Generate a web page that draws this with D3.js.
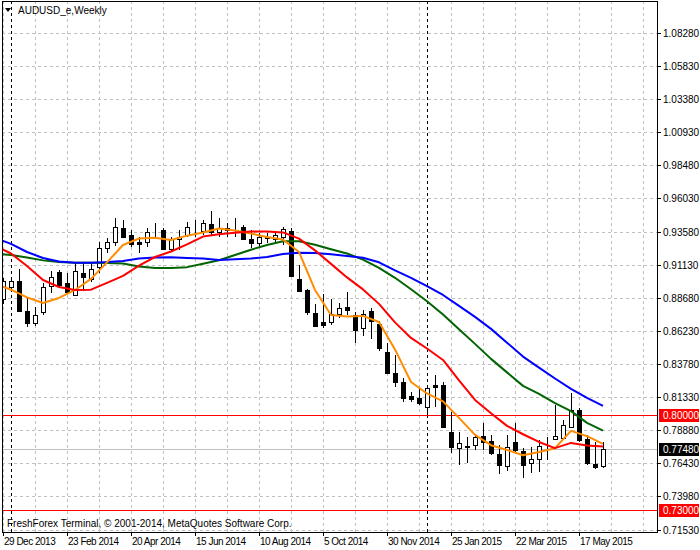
<!DOCTYPE html>
<html>
<head>
<meta charset="utf-8">
<title>AUDUSD_e,Weekly</title>
<style>
  body { margin: 0; background: #fff; }
  svg text { font-family: "Liberation Sans", Arial, sans-serif; font-size: 10px; fill: #000; }
  svg text.date { letter-spacing: -0.5px; }
</style>
</head>
<body>
<script src="https://d3js.org/d3.v7.min.js"></script>
<script>

// weekly candles, first bar = week of 29 Dec 2013
var opens = [0.8857, 0.8950, 0.8993, 0.8770, 0.8681, 0.8761, 0.8953, 0.9059, 0.8976, 0.8887,
    0.9052, 0.9007, 0.9094, 0.9235, 0.9279, 0.9383, 0.9333, 0.9278, 0.9279, 0.9361,
    0.9370, 0.9230, 0.9301, 0.9333, 0.9381, 0.9365, 0.9412, 0.9353, 0.9368, 0.9374,
    0.9389, 0.9304, 0.9272, 0.9313, 0.9301, 0.9316, 0.9363, 0.9007, 0.8926, 0.8754,
    0.8687, 0.8687, 0.8751, 0.8797, 0.8741, 0.8643, 0.8770, 0.8674, 0.8465, 0.8310,
    0.8243, 0.8142, 0.8127, 0.8062, 0.8221, 0.8221, 0.7873, 0.7755, 0.7770, 0.7779,
    0.7846, 0.7809, 0.7712, 0.7626, 0.7801, 0.7735, 0.7644, 0.7673, 0.7820, 0.7821,
    0.7829, 0.7915, 0.8038, 0.7824, 0.7636, 0.7623];
var highs = [0.9015, 0.9015, 0.9079, 0.8867, 0.8797, 0.8980, 0.9067, 0.9074, 0.9050, 0.9131,
    0.9128, 0.9126, 0.9284, 0.9309, 0.9457, 0.9444, 0.9370, 0.9321, 0.9383, 0.9420,
    0.9385, 0.9321, 0.9370, 0.9432, 0.9444, 0.9444, 0.9511, 0.9457, 0.9420, 0.9461,
    0.9407, 0.9370, 0.9346, 0.9346, 0.9348, 0.9395, 0.9383, 0.9111, 0.8934, 0.8820,
    0.8894, 0.8859, 0.8828, 0.8909, 0.8763, 0.8778, 0.8791, 0.8699, 0.8536, 0.8445,
    0.8273, 0.8169, 0.8206, 0.8216, 0.8295, 0.8245, 0.8026, 0.7878, 0.7840, 0.7860,
    0.7940, 0.7853, 0.7779, 0.7853, 0.7940, 0.7755, 0.7767, 0.7816, 0.7840, 0.8075,
    0.7964, 0.8166, 0.8051, 0.7853, 0.7804, 0.7804];
var lows = [0.8822, 0.8911, 0.8770, 0.8654, 0.8661, 0.8741, 0.8901, 0.8948, 0.8901, 0.8882,
    0.8921, 0.8985, 0.9050, 0.9198, 0.9252, 0.9309, 0.9247, 0.9198, 0.9247, 0.9321,
    0.9222, 0.9210, 0.9222, 0.9321, 0.9321, 0.9333, 0.9333, 0.9321, 0.9321, 0.9321,
    0.9296, 0.9235, 0.9247, 0.9274, 0.9281, 0.9259, 0.9024, 0.8913, 0.8741, 0.8654,
    0.8642, 0.8667, 0.8717, 0.8741, 0.8536, 0.8586, 0.8561, 0.8477, 0.8305, 0.8211,
    0.8100, 0.8100, 0.8075, 0.8001, 0.8062, 0.7903, 0.7718, 0.7631, 0.7644, 0.7742,
    0.7742, 0.7705, 0.7562, 0.7589, 0.7730, 0.7533, 0.7570, 0.7582, 0.7668, 0.7816,
    0.7816, 0.7909, 0.7804, 0.7631, 0.7599, 0.7606];
var closes = [0.8995, 0.8990, 0.8773, 0.8679, 0.8740, 0.8950, 0.9024, 0.8965, 0.8913, 0.9064,
    0.9024, 0.9079, 0.9239, 0.9279, 0.9390, 0.9321, 0.9264, 0.9267, 0.9353, 0.9366,
    0.9227, 0.9304, 0.9321, 0.9395, 0.9385, 0.9420, 0.9358, 0.9383, 0.9383, 0.9377,
    0.9302, 0.9272, 0.9316, 0.9318, 0.9333, 0.9375, 0.9032, 0.8921, 0.8761, 0.8662,
    0.8667, 0.8748, 0.8791, 0.8780, 0.8630, 0.8748, 0.8699, 0.8495, 0.8310, 0.8243,
    0.8129, 0.8117, 0.8088, 0.8199, 0.8211, 0.7910, 0.7762, 0.7792, 0.7765, 0.7838,
    0.7801, 0.7718, 0.7631, 0.7767, 0.7742, 0.7631, 0.7673, 0.7774, 0.7824, 0.7846,
    0.7927, 0.8038, 0.7816, 0.7644, 0.7618, 0.7748];

// moving average lines, read every second bar
var maBars = [-1, 1, 3, 5, 7, 9, 11, 13, 15, 17, 19, 21, 23, 25, 27, 29, 31, 33, 35, 37,
    39, 41, 43, 45, 47, 49, 51, 53, 55, 57, 59, 61, 63, 65, 67, 69, 71, 73, 75];
var maOrange = [0.8971, 0.8928, 0.8871, 0.8830, 0.8867, 0.8926, 0.9008, 0.9130, 0.9259, 0.9307,
    0.9313, 0.9296, 0.9328, 0.9352, 0.9381, 0.9366, 0.9344, 0.9318, 0.9300, 0.9207,
    0.8926, 0.8741, 0.8729, 0.8734, 0.8689, 0.8486, 0.8245, 0.8160, 0.8101, 0.7979,
    0.7853, 0.7777, 0.7742, 0.7703, 0.7727, 0.7755, 0.7883, 0.7844, 0.7787];
var maRed = [0.9252, 0.9196, 0.9104, 0.9000, 0.8948, 0.8926, 0.8928, 0.8978, 0.9030, 0.9106,
    0.9170, 0.9211, 0.9263, 0.9321, 0.9338, 0.9350, 0.9358, 0.9358, 0.9352, 0.9306,
    0.9219, 0.9119, 0.9019, 0.8930, 0.8823, 0.8686, 0.8571, 0.8493, 0.8408, 0.8256,
    0.8112, 0.8014, 0.7920, 0.7858, 0.7801, 0.7755, 0.7794, 0.7775, 0.7767];
var maGreen = [0.9193, 0.9185, 0.9167, 0.9145, 0.9133, 0.9128, 0.9128, 0.9126, 0.9122, 0.9100,
    0.9089, 0.9088, 0.9095, 0.9120, 0.9146, 0.9185, 0.9224, 0.9259, 0.9287, 0.9287,
    0.9261, 0.9228, 0.9196, 0.9151, 0.9090, 0.9016, 0.8931, 0.8843, 0.8745, 0.8636,
    0.8527, 0.8416, 0.8316, 0.8216, 0.8157, 0.8088, 0.8029, 0.7942, 0.7885];
var maBlue = [0.9311, 0.9267, 0.9207, 0.9163, 0.9137, 0.9128, 0.9128, 0.9133, 0.9141, 0.9159,
    0.9167, 0.9168, 0.9163, 0.9158, 0.9148, 0.9153, 0.9159, 0.9170, 0.9192, 0.9202,
    0.9200, 0.9190, 0.9178, 0.9165, 0.9131, 0.9071, 0.9016, 0.8954, 0.8889, 0.8808,
    0.8727, 0.8638, 0.8536, 0.8433, 0.8351, 0.8271, 0.8194, 0.8127, 0.8068];

var priceTicks = [1.0828, 1.0583, 1.0338, 1.0093, 0.9848, 0.9603, 0.9358, 0.9113,
    0.8868, 0.8623, 0.8378, 0.8133, 0.7888, 0.7643, 0.7398, 0.7153];
var dateLabels = ["29 Dec 2013", "23 Feb 2014", "20 Apr 2014", "15 Jun 2014", "10 Aug 2014",
    "5 Oct 2014", "30 Nov 2014", "25 Jan 2015", "22 Mar 2015", "17 May 2015"];
var dateLabelStep = 8;      // bars between date labels
var yearSeparators = [1, 53]; // first weekly bar of 2014 and 2015
var levels = [0.80, 0.73];
var lastPrice = 0.7748;

var width = 700, height = 550;
var pLeft = 2, pRight = 657, pTop = 1, pBottom = 532;
var barW = 8;

var x = d3.scaleLinear()
    .domain([0, (pRight - 3) / barW])
    .range([3, pRight]);
var y = d3.scaleLinear()
    .domain([priceTicks[priceTicks.length - 1], priceTicks[0]])
    .range([529.5, 33]);

function px(v) { return Math.round(x(v)) + 0.5; }
function py(v) { return Math.round(y(v)) + 0.5; }

var svg = d3.select('body').append('svg')
    .attr('width', width)
    .attr('height', height);

svg.append('rect').attr('width', width).attr('height', height).attr('fill', '#fff');

svg.append('clipPath').attr('id', 'plotclip')
    .append('rect')
    .attr('x', pLeft).attr('y', pTop)
    .attr('width', pRight - pLeft).attr('height', pBottom - pTop);

var plot = svg.append('g').attr('clip-path', 'url(#plotclip)');

// grid
plot.selectAll('.hgrid')
    .data(priceTicks)
    .enter().append('line')
    .attr('x1', pLeft).attr('x2', pRight)
    .attr('y1', py).attr('y2', py)
    .attr('stroke', '#c0c0c0')
    .attr('stroke-dasharray', '3,3');

plot.selectAll('.vgrid')
    .data(d3.range(0, x.domain()[1], dateLabelStep / 2))
    .enter().append('line')
    .attr('x1', px).attr('x2', px)
    .attr('y1', pTop).attr('y2', pBottom)
    .attr('stroke', '#c0c0c0')
    .attr('stroke-dasharray', '3,3');

// year separators
plot.selectAll('.sep')
    .data(yearSeparators)
    .enter().append('line')
    .attr('x1', px).attr('x2', px)
    .attr('y1', pTop).attr('y2', pBottom)
    .attr('stroke', '#000')
    .attr('stroke-dasharray', '3,3');

// level lines and bid line
plot.selectAll('.level')
    .data(levels)
    .enter().append('line')
    .attr('x1', pLeft).attr('x2', pRight)
    .attr('y1', py).attr('y2', py)
    .attr('stroke', '#ff0000');

plot.append('line')
    .attr('x1', pLeft).attr('x2', pRight)
    .attr('y1', py(lastPrice)).attr('y2', py(lastPrice))
    .attr('stroke', '#c0c0c0');

// candles
var bars = closes.map(function (c, i) {
    return {i: i, o: opens[i], h: highs[i], l: lows[i], c: c};
});

var candle = plot.selectAll('.candle')
    .data(bars)
    .enter().append('g')
    .attr('shape-rendering', 'crispEdges');

candle.append('line')
    .attr('x1', function (d) { return px(d.i); })
    .attr('x2', function (d) { return px(d.i); })
    .attr('y1', function (d) { return Math.round(y(d.h)); })
    .attr('y2', function (d) { return Math.round(y(d.l)); })
    .attr('stroke', '#000');

candle.append('rect')
    .attr('x', function (d) { return px(d.i) - 2; })
    .attr('y', function (d) { return Math.round(y(Math.max(d.o, d.c))) + 0.5; })
    .attr('width', 4)
    .attr('height', function (d) {
        return Math.max(0, Math.round(y(Math.min(d.o, d.c))) - Math.round(y(Math.max(d.o, d.c))));
    })
    .attr('fill', function (d) { return d.c >= d.o ? '#fff' : '#000'; })
    .attr('stroke', '#000');

// moving averages
var maLine = d3.line()
    .x(function (d) { return x(d[0]); })
    .y(function (d) { return y(d[1]); });

[[maGreen, '#006400'], [maBlue, '#0000ff'], [maOrange, '#ff8c00'], [maRed, '#ff0000']]
    .forEach(function (s) {
        plot.append('path')
            .datum(maBars.map(function (b, k) { return [b, s[0][k]]; }))
            .attr('d', maLine)
            .attr('fill', 'none')
            .attr('stroke', s[1])
            .attr('stroke-width', 2)
            .attr('stroke-linejoin', 'round');
    });

// frame
svg.append('rect')
    .attr('x', pLeft + 0.5).attr('y', pTop + 0.5)
    .attr('width', pRight - pLeft).attr('height', pBottom - pTop)
    .attr('fill', 'none')
    .attr('stroke', '#000');

// price axis
var pa = svg.selectAll('.ptick')
    .data(priceTicks)
    .enter().append('g');
pa.append('line')
    .attr('x1', pRight).attr('x2', pRight + 4)
    .attr('y1', py).attr('y2', py)
    .attr('stroke', '#000');
pa.append('text')
    .attr('x', pRight + 6)
    .attr('y', function (d) { return Math.round(y(d)) + 4; })
    .text(function (d) { return d.toFixed(5); });

// marked prices on the axis
var marks = levels.map(function (v) { return {v: v, bg: '#ff0000'}; })
    .concat([{v: lastPrice, bg: '#000'}]);
var mk = svg.selectAll('.mark')
    .data(marks)
    .enter().append('g');
mk.append('rect')
    .attr('x', pRight + 2)
    .attr('y', function (d) { return Math.round(y(d.v)) - 6; })
    .attr('width', 40).attr('height', 13)
    .attr('fill', function (d) { return d.bg; });
mk.append('text')
    .attr('x', pRight + 6)
    .attr('y', function (d) { return Math.round(y(d.v)) + 4; })
    .style('fill', '#fff')
    .text(function (d) { return d.v.toFixed(5); });

// time axis
var ta = svg.selectAll('.ttick')
    .data(dateLabels)
    .enter().append('g');
ta.append('line')
    .attr('x1', function (d, k) { return px(k * dateLabelStep); })
    .attr('x2', function (d, k) { return px(k * dateLabelStep); })
    .attr('y1', pBottom).attr('y2', pBottom + 4)
    .attr('stroke', '#000');
ta.append('text')
    .attr('class', 'date')
    .attr('x', function (d, k) { return Math.round(x(k * dateLabelStep)) + 1; })
    .attr('y', 545)
    .text(function (d) { return d; });

// title and footer
svg.append('path')
    .attr('d', 'M5,8 L11,8 L8,12 Z')
    .attr('fill', '#000');
svg.append('text')
    .attr('x', 18).attr('y', 14)
    .text('AUDUSD_e,Weekly');
svg.append('text')
    .attr('x', 7).attr('y', 527)
    .text('FreshForex Terminal, \u00a9 2001-2014, MetaQuotes Software Corp.');

</script>
</body>
</html>
